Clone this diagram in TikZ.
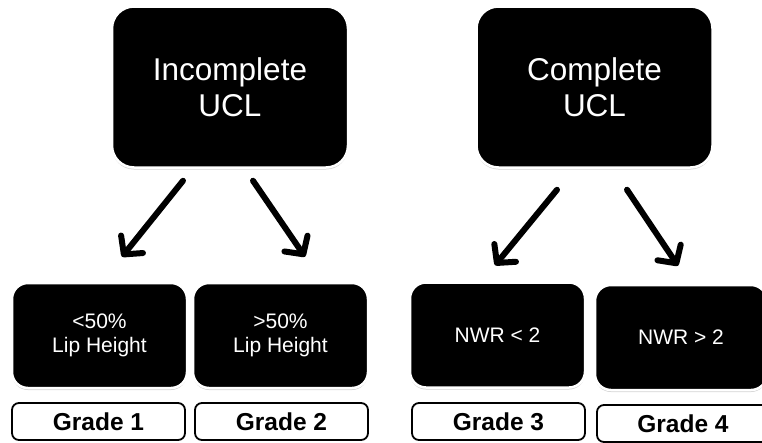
\documentclass[tikz,border=0pt]{standalone}
\usepackage{fontspec}
\setmainfont{Liberation Sans}
\usetikzlibrary{arrows.meta, shadows}

\begin{document}
\begin{tikzpicture}[x=1pt, y=-1pt,
    ucl/.style={draw=white, line width=2.5pt, fill=black, text=white, rounded corners=22pt, minimum width=236pt, minimum height=161pt, align=center, font=\fontsize{31.5}{36}\selectfont, drop shadow={shadow xshift=0pt, shadow yshift=-2pt, opacity=0.35}},
    crit/.style={draw=white, line width=2.5pt, fill=black, text=white, rounded corners=16pt, minimum width=175pt, minimum height=105pt, align=center, font=\fontsize{21}{24}\selectfont, drop shadow={shadow xshift=0pt, shadow yshift=-2pt, opacity=0.35}},
    grade/.style={draw=black, line width=1.8pt, fill=white, rounded corners=7pt, minimum width=173pt, minimum height=37pt, font=\fontsize{24.5}{28}\selectfont\bfseries},
    split/.style={line width=6pt, line cap=round, -{Straight Barb[round, length=13pt, width=28pt]}}
]
\useasboundingbox (0,0) rectangle (762,442);

% Top level
\node[ucl] (inc) at (230,87) {Incomplete\\UCL};
\node[ucl] (com) at (594.5,87) {Complete\\UCL};

% Criteria
\node[crit] (lt1) at (99.5,335.5) {<50\%\\Lip Height};
\node[crit] (lt2) at (280.5,335.5) {>50\%\\Lip Height};
\node[crit] (lt3) at (497.5,335) {NWR < 2};
\node[crit, minimum width=172pt] (lt4) at (681,337.5) {NWR > 2};

% Grades
\node[grade] (g1) at (98.5,421.5) {Grade 1};
\node[grade] (g2) at (281.5,421.5) {Grade 2};
\node[grade] (g3) at (498.5,421.5) {Grade 3};
\node[grade, minimum width=172pt] (g4) at (683,423.5) {Grade 4};

% Arrows
\draw[split] ([shift={(-47,12)}]inc.south) -- ([shift={(22.5,-25)}]lt1.north);
\draw[split] ([shift={(23,12)}]inc.south) -- ([shift={(24.5,-25)}]lt2.north);
\draw[split] ([shift={(-37.5,21)}]com.south) -- ([shift={(-2.5,-16)}]lt3.north);
\draw[split] ([shift={(32.5,21)}]com.south) -- ([shift={(-3,-18)}]lt4.north);

\end{tikzpicture}
\end{document}
